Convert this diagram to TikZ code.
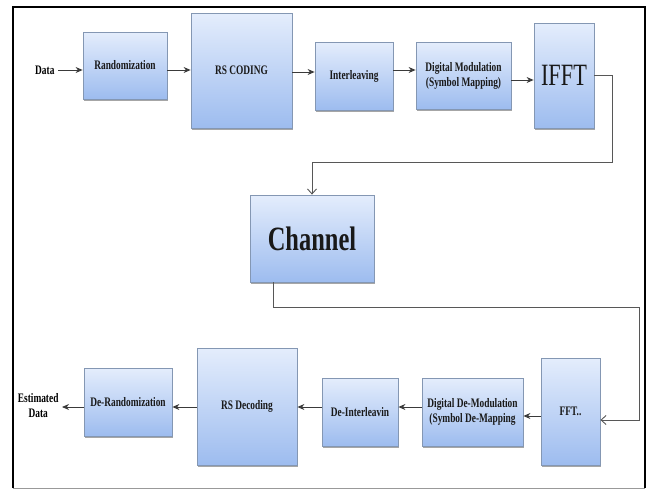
\documentclass[tikz,border=0pt]{standalone}
\usepackage{fontspec}
\setmainfont{Liberation Serif}[FakeStretch=0.72]
\usetikzlibrary{positioning,arrows.meta,shadows}
\definecolor{bxTop}{HTML}{E4EDFC}
\definecolor{bxBot}{HTML}{9DBCEF}
\definecolor{bxLine}{HTML}{8497B3}
\definecolor{lnC}{HTML}{3A3A3A}
\begin{document}
\begin{tikzpicture}[x=1pt,y=-1pt,
  font=\fontsize{13}{15}\selectfont\bfseries,
  bx/.style={draw=bxLine,top color=bxTop,bottom color=bxBot,line width=.8pt,
    inner sep=0pt,align=center,text=black!90,
    drop shadow={shadow xshift=1pt,shadow yshift=-1.8pt,opacity=.35,fill=black}},
  ar/.style={-{Stealth[length=7pt,width=6pt]},lnC,line width=.9pt},
  ln/.style={-{Straight Barb[length=5pt,width=9pt]},lnC!85,line width=.9pt}]
\useasboundingbox (0,0) rectangle (650,490);
% frame
\draw[line width=2pt] (13,488) -- (13,7) -- (645,7) -- (645,488);
\draw[gray!80,line width=1pt] (13,488) -- (645,488);
% transmitter
\node[bx,minimum width=84pt,minimum height=67pt] (rand) at (125,65.5) {Randomization};
\node[bx,minimum width=101pt,minimum height=115pt] (rs) at (241.5,70.5) {RS CODING};
\node[bx,minimum width=78pt,minimum height=68pt] (intl) at (354,76) {Interleaving};
\node[bx,minimum width=95pt,minimum height=67pt] (dmod) at (463.5,75.5) {Digital Modulation\\(Symbol Mapping)};
\node[bx,minimum width=60pt,minimum height=105pt,font=\fontsize{31}{32}\selectfont] (ifft) at (564,75.5) {IFFT};
\node[anchor=east] (din) at (58,70) {Data};
\draw[ar] (din.east) -- (rand.west |- din.east);
\draw[ar] (rand.east |- 0,70) -- (rs.west |- 0,70);
\draw[ar] (rs.east |- 0,72) -- (intl.west |- 0,72);
\draw[ar] (intl.east |- 0,70) -- (dmod.west |- 0,70);
\draw[ar] (dmod.east |- 0,80) -- (ifft.west |- 0,80);
% channel
\node[bx,minimum width=124pt,minimum height=87pt,font=\fontsize{34}{35}\selectfont\bfseries] (chan) at (312,238.5) {Channel};
\coordinate (c1) at (612,162);
\coordinate (c2) at (639,307);
\draw[ln] (ifft.east) -| (c1) -| (chan.north);
% receiver
\node[bx,minimum width=59pt,minimum height=107pt] (fft) at (570.5,411.5) {FFT..};
\node[bx,minimum width=101pt,minimum height=68pt] (ddmod) at (472.5,412) {Digital De-Modulation\\(Symbol De-Mapping};
\node[bx,minimum width=76pt,minimum height=68pt] (dint) at (360,412) {De-Interleavin};
\node[bx,minimum width=100pt,minimum height=117pt] (rsdec) at (247,406.5) {RS Decoding};
\node[bx,minimum width=88pt,minimum height=68pt] (drand) at (128,402) {De-Randomization};
\node[align=center,anchor=east] (dout) at (62,406) {Estimated\\Data};
\draw[ln] ([xshift=-39pt]chan.south) |- (c2) |- (fft.east |- 0,420);
\draw[ar] (fft.west |- 0,416) -- (ddmod.east |- 0,416);
\draw[ar] (ddmod.west |- 0,407) -- (dint.east |- 0,407);
\draw[ar] (dint.west |- 0,407) -- (rsdec.east |- 0,407);
\draw[ar] (rsdec.west |- 0,407) -- (drand.east |- 0,407);
\draw[ar] (drand.west |- 0,407) -- (dout.east |- 0,407);
\end{tikzpicture}
\end{document}
